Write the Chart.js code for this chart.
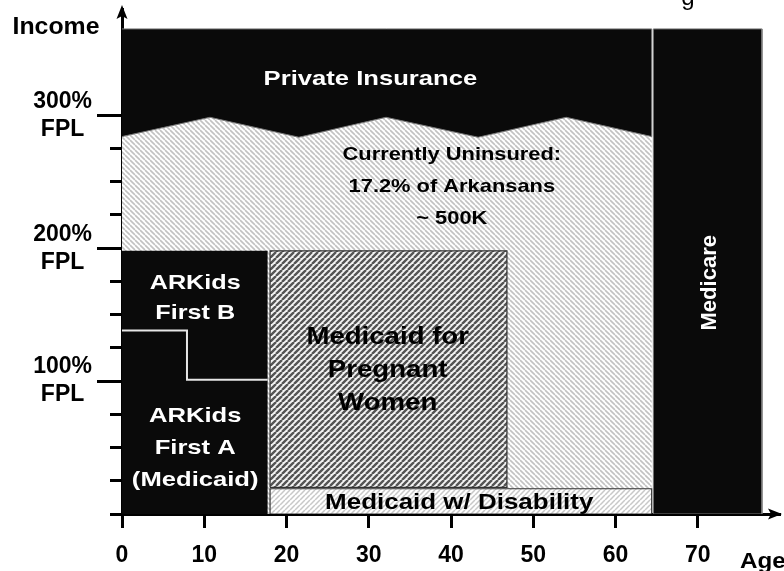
<!DOCTYPE html>
<html>
<head>
<meta charset="utf-8">
<script src="https://cdn.jsdelivr.net/npm/chart.js@4.4.1/dist/chart.umd.min.js"></script>
<style>
  html, body { margin: 0; padding: 0; background: #fff; }
  #wrap { position: relative; width: 784px; height: 571px; }
</style>
</head>
<body>
<div id="wrap"><canvas id="c"></canvas></div>
<script>
// ---- data (x = age in years, y = income in % of FPL) ----
const ageTicks = [0, 10, 20, 30, 40, 50, 60, 70];
const fplTicks = [0, 25, 50, 75, 100, 125, 150, 175, 200, 225, 250, 275, 300];
const fplLabelled = [100, 200, 300];
const coverageTop = 365;
const zigzagAge = [0, 10.7, 21.5, 32.1, 43.3, 54.0, 64.4];
const zigzagFpl = [284, 298.5, 283.5, 298.5, 283.5, 298.5, 284];
const arkidsAge = [0, 7.9, 17.7];        // start, step, end
const arkidsFpl = [138, 101, 198];       // step high, step low, top
const pregnantAge = [18, 46.8];
const pregnantFpl = [20, 198];
const disabilityAge = [18, 64.4];
const disabilityFpl = [0, 19];
const medicareAge = [64.6, 77.8];
const medicareFpl = [0, 365];

// ---- helpers ----
function hatch(dir, size, lw, fg, bg) {
  const c = document.createElement('canvas');
  c.width = size; c.height = size;
  const g = c.getContext('2d');
  g.fillStyle = bg; g.fillRect(0, 0, size, size);
  g.strokeStyle = fg; g.lineWidth = lw;
  g.beginPath();
  for (const o of [-size, 0, size]) {
    if (dir === '/') { g.moveTo(o, size); g.lineTo(o + size, 0); }
    else { g.moveTo(o, 0); g.lineTo(o + size, size); }
  }
  g.stroke();
  return g.createPattern(c, 'repeat');
}
function rect(xs, ys) {
  return [{x: xs[0], y: ys[0]}, {x: xs[0], y: ys[1]}, {x: xs[1], y: ys[1]}, {x: xs[1], y: ys[0]}, {x: xs[0], y: ys[0]}];
}
const zig = zigzagAge.map((a, i) => ({x: a, y: zigzagFpl[i]}));
const zEnd = zigzagAge[zigzagAge.length - 1];

const BLACK = '#0a0a0a';
const lightBack = hatch('\\', 5, 1.6, '#c2c2c2', '#ffffff');
const darkFwd = hatch('/', 6, 2.4, '#555555', '#f4f4f4');
const lightFwd = hatch('/', 5, 1.5, '#c8c8c8', '#ffffff');

function poly(points, bg, border, bw, order) {
  return {
    data: points, backgroundColor: bg, borderColor: border || 'rgba(0,0,0,0)',
    borderWidth: bw || 0, fill: 'shape', pointRadius: 0, tension: 0, order: order
  };
}

const datasets = [
  poly([{x: 0, y: 0}, ...zig, {x: zEnd, y: 0}], lightBack, null, 0, 20),
  poly([...zig, {x: zEnd, y: coverageTop}, {x: 0, y: coverageTop}], BLACK, '#777', 1, 19),
  poly(rect(medicareAge, medicareFpl), BLACK, '#777', 1, 18),
  poly(rect(disabilityAge, disabilityFpl), lightFwd, '#333', 1.2, 17),
  poly(rect(pregnantAge, pregnantFpl), darkFwd, '#333', 1.2, 16),
  poly([{x: arkidsAge[0], y: arkidsFpl[0]}, {x: arkidsAge[0], y: arkidsFpl[2]}, {x: arkidsAge[2], y: arkidsFpl[2]},
        {x: arkidsAge[2], y: arkidsFpl[1]}, {x: arkidsAge[1], y: arkidsFpl[1]}, {x: arkidsAge[1], y: arkidsFpl[0]}], BLACK, null, 0, 15),
  poly([{x: arkidsAge[0], y: 0}, {x: arkidsAge[0], y: arkidsFpl[0]}, {x: arkidsAge[1], y: arkidsFpl[0]},
        {x: arkidsAge[1], y: arkidsFpl[1]}, {x: arkidsAge[2], y: arkidsFpl[1]}, {x: arkidsAge[2], y: 0}], BLACK, null, 0, 14),
  { data: [{x: arkidsAge[0], y: arkidsFpl[0]}, {x: arkidsAge[1], y: arkidsFpl[0]}, {x: arkidsAge[1], y: arkidsFpl[1]}, {x: arkidsAge[2], y: arkidsFpl[1]}],
    borderColor: '#e6e6e6', borderWidth: 2, fill: false, pointRadius: 0, tension: 0, order: 1 }
];

// region labels (anchor in data units)
const regionLabels = [
  {lines: ['Private Insurance'], x: 30.2, y: 327, size: 21, sx: 1.22, color: '#fff', lh: 30},
  {lines: ['Currently Uninsured:', '17.2% of Arkansans', '~ 500K'], x: 40.1, y: 246, size: 19, sx: 1.15, color: '#000', lh: 32},
  {lines: ['ARKids', 'First B'], x: 8.9, y: 162.5, size: 21, sx: 1.2, color: '#fff', lh: 30},
  {lines: ['ARKids', 'First A', '(Medicaid)'], x: 8.9, y: 49.7, size: 21, sx: 1.22, color: '#fff', lh: 32},
  {lines: ['Medicaid for', 'Pregnant', 'Women'], x: 32.3, y: 108.4, size: 24, sx: 1.15, color: '#000', lh: 33},
  {lines: ['Medicaid w/ Disability'], x: 41, y: 8.3, size: 22, sx: 1.18, color: '#000', lh: 30},
];
const FONT = "'Liberation Sans', Arial, sans-serif";

const decor = {
  id: 'decor',
  afterDraw(chart) {
    const {ctx, scales: {x, y}} = chart;
    ctx.save();
    // longer major y ticks
    ctx.strokeStyle = '#000'; ctx.lineWidth = 3;
    for (const v of fplLabelled) {
      const py = Math.round(y.getPixelForValue(v)) + 0.5;
      ctx.beginPath(); ctx.moveTo(97, py); ctx.lineTo(x.left, py); ctx.stroke();
    }
    // arrows
    ctx.fillStyle = '#000';
    const ax = x.left, ay = y.bottom;
    ctx.beginPath(); ctx.moveTo(ax, 5); ctx.lineTo(ax - 5.5, 19); ctx.lineTo(ax, 16); ctx.lineTo(ax + 5.5, 19); ctx.closePath(); ctx.fill();
    ctx.fillRect(ax - 1.5, 12, 3, Math.max(0, y.top - 10));
    ctx.beginPath(); ctx.moveTo(782, ay); ctx.lineTo(768, ay - 5.5); ctx.lineTo(771, ay); ctx.lineTo(768, ay + 5.5); ctx.closePath(); ctx.fill();
    // region labels
    ctx.textAlign = 'center'; ctx.textBaseline = 'middle';
    for (const L of regionLabels) {
      const cx = x.getPixelForValue(L.x), cy = y.getPixelForValue(L.y);
      ctx.font = 'bold ' + L.size + 'px ' + FONT;
      ctx.fillStyle = L.color;
      const n = L.lines.length;
      L.lines.forEach((t, i) => {
        ctx.save();
        ctx.translate(cx, cy + (i - (n - 1) / 2) * L.lh);
        ctx.scale(L.sx, 1);
        ctx.fillText(t, 0, 0);
        ctx.restore();
      });
    }
    // Medicare (rotated)
    ctx.save();
    ctx.translate(x.getPixelForValue(71.5), y.getPixelForValue(174));
    ctx.rotate(-Math.PI / 2);
    ctx.font = 'bold 22px ' + FONT; ctx.fillStyle = '#fff';
    ctx.fillText('Medicare', 0, 0);
    ctx.restore();
    // axis titles
    ctx.fillStyle = '#000';
    ctx.save(); ctx.translate(56, 28); ctx.scale(1.08, 1);
    ctx.font = 'bold 23px ' + FONT; ctx.fillText('Income', 0, 0); ctx.restore();
    ctx.save(); ctx.textAlign = 'left'; ctx.textBaseline = 'alphabetic';
    ctx.translate(740, 568); ctx.scale(1.1, 1);
    ctx.font = 'bold 22px ' + FONT; ctx.fillText('Age', 0, 0); ctx.restore();
    // clipped title fragment at top
    ctx.save(); ctx.textBaseline = 'alphabetic'; ctx.font = '24px ' + FONT;
    ctx.fillText('g', 688, 5); ctx.restore();
    ctx.restore();
  }
};

const tickFont = {family: FONT, size: 23, weight: 'bold', lineHeight: 1.22};

new Chart(document.getElementById('c'), {
  type: 'line',
  data: {datasets},
  options: {
    responsive: true, maintainAspectRatio: false, animation: false,
    layout: {padding: {top: 9, right: 4, left: 0, bottom: 0}},
    plugins: {legend: {display: false}, tooltip: {enabled: false}},
    elements: {line: {borderJoinStyle: 'miter'}},
    scales: {
      x: {
        type: 'linear', min: 0, max: 80, z: 1,
        afterBuildTicks: s => { s.ticks = ageTicks.map(v => ({value: v})); },
        afterFit: s => { s.height = 57; s.paddingLeft = 0; s.paddingRight = 0; },
        border: {display: true, color: '#000', width: 3},
        grid: {drawOnChartArea: false, drawTicks: true, tickLength: 14, tickWidth: 3, tickColor: '#000', color: '#000'},
        ticks: {font: tickFont, color: '#000', padding: 14, maxRotation: 0, autoSkip: false}
      },
      y: {
        type: 'linear', min: 0, max: 380, z: 1,
        afterBuildTicks: s => { s.ticks = fplTicks.map(v => ({value: v})); },
        afterFit: s => { s.width = 122; s.paddingTop = 0; s.paddingBottom = 0; },
        border: {display: true, color: '#000', width: 3},
        grid: {drawOnChartArea: false, drawTicks: true, tickLength: 12, tickWidth: 3, tickColor: '#000', color: '#000'},
        ticks: {
          font: tickFont, color: '#000', padding: 18, crossAlign: 'center', autoSkip: false,
          callback: v => fplLabelled.includes(v) ? [v + '%', 'FPL'] : ''
        }
      }
    }
  },
  plugins: [decor]
});
</script>
</body>
</html>
